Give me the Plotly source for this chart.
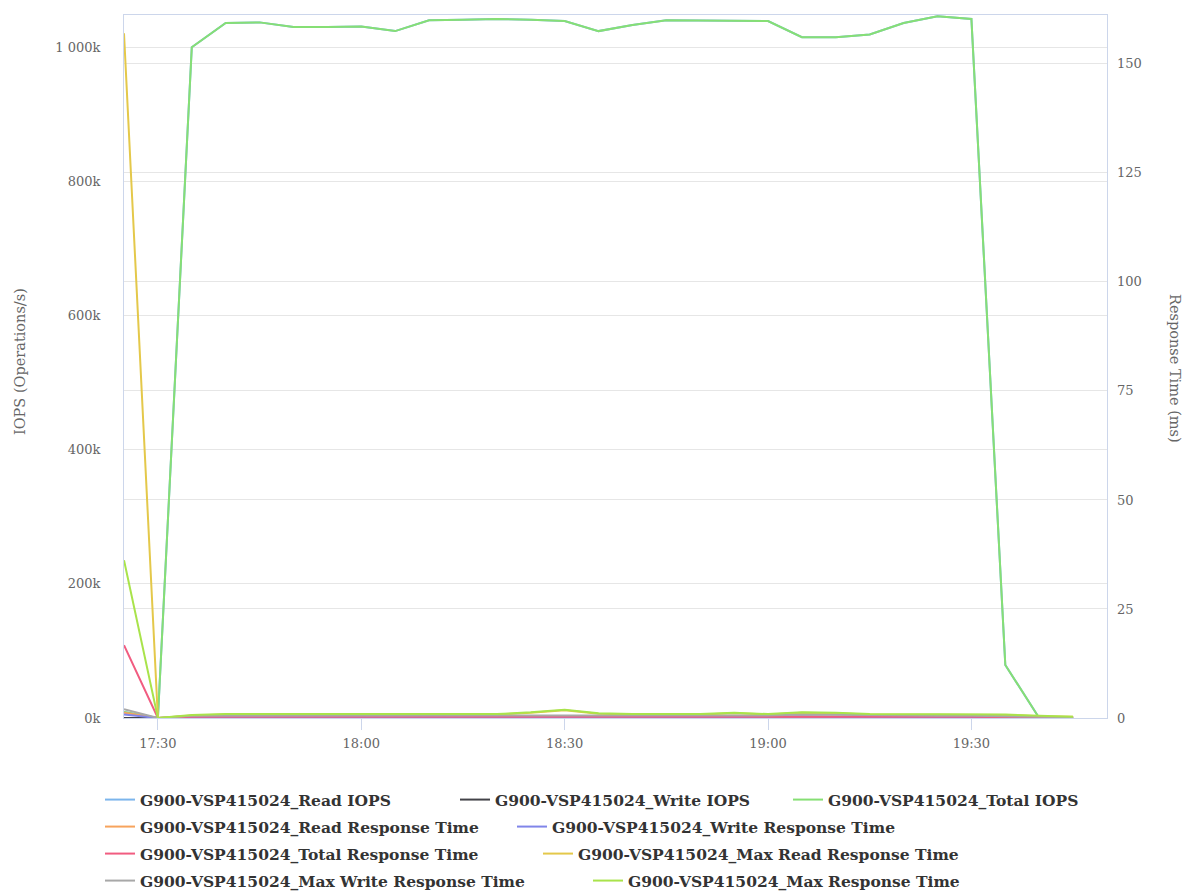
import plotly.graph_objects as go
from datetime import datetime

DATE = "2024-01-01"
times = ["17:25", "17:30", "17:35", "17:40", "17:45", "17:50", "17:55", "18:00", "18:05",
         "18:10", "18:15", "18:20", "18:25", "18:30", "18:35", "18:40", "18:45", "18:50",
         "18:55", "19:00", "19:05", "19:10", "19:15", "19:20", "19:25", "19:30", "19:35",
         "19:40", "19:45"]

# IOPS in thousands of operations/s
total_iops_k = [9, 0, 1000, 1036, 1037, 1030, 1030, 1031, 1024, 1040, 1041, 1042, 1041, 1039,
                1024, 1033, 1040, 1040, 1039, 1039, 1015, 1015, 1019, 1036, 1046, 1042, 79, 0, 0]
read_iops_k = [9, 0, 1000, 1036, 1037, 1030, 1030, 1031, 1024, 1040, 1041, 1042, 1041, 1039,
               1024, 1033, 1040, 1040, 1039, 1039, 1015, 1015, 1019, 1036, 1046, 1042, 79, 0, 0]
write_iops_k = [0, 0, 0, 0, 0, 0, 0, 0, 0, 0, 0, 0, 0, 0, 0, 0, 0, 0, 0, 0, 0, 0, 0, 0, 0, 0, 0, 0, 0]

# Response times in ms
read_rt = [1.2, 0, 0.3, 0.3, 0.3, 0.3, 0.3, 0.3, 0.3, 0.3, 0.3, 0.3, 0.3, 0.4, 0.3, 0.3, 0.3,
           0.3, 0.3, 0.3, 0.3, 0.3, 0.3, 0.3, 0.3, 0.3, 0.2, 0.1, 0.1]
write_rt = [0.8, 0, 0.1, 0.1, 0.1, 0.1, 0.1, 0.1, 0.1, 0.1, 0.1, 0.1, 0.1, 0.1, 0.1, 0.1, 0.1,
            0.1, 0.2, 0.3, 0.4, 0.3, 0.2, 0.1, 0.1, 0.1, 0.1, 0.1, 0.1]
total_rt = [16.7, 0, 0.3, 0.3, 0.3, 0.3, 0.3, 0.3, 0.3, 0.3, 0.3, 0.3, 0.3, 0.4, 0.3, 0.3, 0.3,
            0.3, 0.3, 0.3, 0.3, 0.3, 0.3, 0.3, 0.3, 0.3, 0.2, 0.1, 0.1]
max_read_rt = [157, 0, 0.6, 0.8, 0.8, 0.8, 0.8, 0.8, 0.8, 0.8, 0.8, 0.8, 1.2, 1.8, 1.0, 0.8,
               0.8, 0.8, 1.1, 0.8, 1.2, 1.1, 0.8, 0.8, 0.8, 0.8, 0.7, 0.4, 0.3]
max_write_rt = [2.0, 0, 0.5, 0.5, 0.5, 0.5, 0.5, 0.5, 0.5, 0.5, 0.5, 0.5, 0.5, 0.6, 0.5, 0.5,
                0.5, 0.5, 0.6, 0.6, 0.8, 0.7, 0.6, 0.5, 0.5, 0.5, 0.4, 0.3, 0.2]
max_rt = [36.2, 0, 0.7, 0.9, 0.9, 0.9, 0.9, 0.9, 0.9, 0.9, 0.9, 0.9, 1.3, 1.9, 1.1, 0.9,
          0.9, 0.9, 1.2, 0.9, 1.3, 1.2, 0.9, 0.9, 0.9, 0.9, 0.8, 0.5, 0.3]

left_tickvals_k = [0, 200, 400, 600, 800, 1000]
left_ticktext = ["0k", "200k", "400k", "600k", "800k", "1 000k"]
right_tickvals = [0, 25, 50, 75, 100, 125, 150]

prefix = "G900-VSP415024_"
series = [
    ("Read IOPS", [v * 1000 for v in read_iops_k], "y", "#7cb5ec"),
    ("Write IOPS", [v * 1000 for v in write_iops_k], "y", "#434348"),
    ("Total IOPS", [v * 1000 for v in total_iops_k], "y", "#86df74"),
    ("Read Response Time", read_rt, "y2", "#f7a35c"),
    ("Write Response Time", write_rt, "y2", "#8085e9"),
    ("Total Response Time", total_rt, "y2", "#f15c80"),
    ("Max Read Response Time", max_read_rt, "y2", "#e4c84a"),
    ("Max Write Response Time", max_write_rt, "y2", "#a8a8a8"),
    ("Max Response Time", max_rt, "y2", "#a9e34b"),
]

# legend item placement (pixel x of symbol start, row index)
legend_pos = [(110, 0), (465, 0), (798, 0), (110, 1), (522, 1), (110, 2), (548, 2), (110, 3), (598, 3)]
legend_rows_y = [800, 827, 854, 881]

W, H = 1193, 892
ML, MR, MT, MB = 124, 86, 15, 174
PW = W - ML - MR
PH = H - MT - MB

x = [datetime.fromisoformat(f"{DATE}T{t}:00") for t in times]

fig = go.Figure()
layout_legends = {}
for i, (name, vals, ax, col) in enumerate(series):
    lname = "legend" if i == 0 else f"legend{i + 1}"
    fig.add_trace(go.Scatter(
        x=x, y=vals, name=prefix + name, yaxis=ax, mode="lines",
        line=dict(color=col, width=2), legend=lname,
    ))
    px, row = legend_pos[i]
    row_y = legend_rows_y[row]
    layout_legends[lname] = dict(
        xref="container", yref="container",
        x=(px - 10) / W, xanchor="left",
        y=(H - row_y) / H, yanchor="middle",
        orientation="h", bgcolor="rgba(0,0,0,0)",
        font=dict(family="DejaVu Serif", size=15.5, color="#333333", weight="bold"),
        itemwidth=30, tracegroupgap=0,
    )

axis_font = dict(family="DejaVu Serif", size=13, color="#666666")
fig.update_layout(
    width=W, height=H,
    margin=dict(l=ML, r=MR, t=MT, b=MB, autoexpand=False),
    paper_bgcolor="white", plot_bgcolor="white",
    showlegend=True,
    xaxis=dict(
        type="date", range=[datetime.fromisoformat(f"{DATE}T17:25:00"),
                            datetime.fromisoformat(f"{DATE}T19:50:00")],
        tick0=datetime.fromisoformat(f"{DATE}T17:30:00"), dtick=30 * 60 * 1000,
        tickformat="%H:%M", showgrid=False, zeroline=False,
        showline=True, linecolor="#ccd6eb", linewidth=1, mirror=True,
        ticks="outside", ticklen=11, tickcolor="#ccd6eb",
        tickfont=axis_font, ticklabelstandoff=2,
    ),
    yaxis=dict(
        range=[0, 1048000], tickvals=[v * 1000 for v in left_tickvals_k], ticktext=left_ticktext,
        showgrid=True, gridcolor="#e6e6e6", zeroline=False,
        showline=True, linecolor="#ccd6eb", mirror=True,
        tickfont=axis_font, ticklabelstandoff=20,
    ),
    yaxis2=dict(
        overlaying="y", side="right", range=[0, 161.2], tickvals=right_tickvals,
        showgrid=True, gridcolor="#e6e6e6", zeroline=False, showline=False,
        tickfont=axis_font, ticklabelstandoff=9,
    ),
    annotations=[
        dict(text="IOPS (Operations/s)", xref="paper", yref="paper",
             x=(20 - ML) / PW, y=(H - MB - 362) / PH, xanchor="center", yanchor="middle",
             textangle=-90, showarrow=False,
             font=dict(family="DejaVu Serif", size=14.5, color="#666666")),
        dict(text="Response Time (ms)", xref="paper", yref="paper",
             x=(1175 - ML) / PW, y=(H - MB - 368) / PH, xanchor="center", yanchor="middle",
             textangle=90, showarrow=False,
             font=dict(family="DejaVu Serif", size=14.5, color="#666666")),
    ],
    **layout_legends,
)

fig.write_html("out.html", config={"displayModeBar": False},
               post_script="document.body.style.margin='0';")
